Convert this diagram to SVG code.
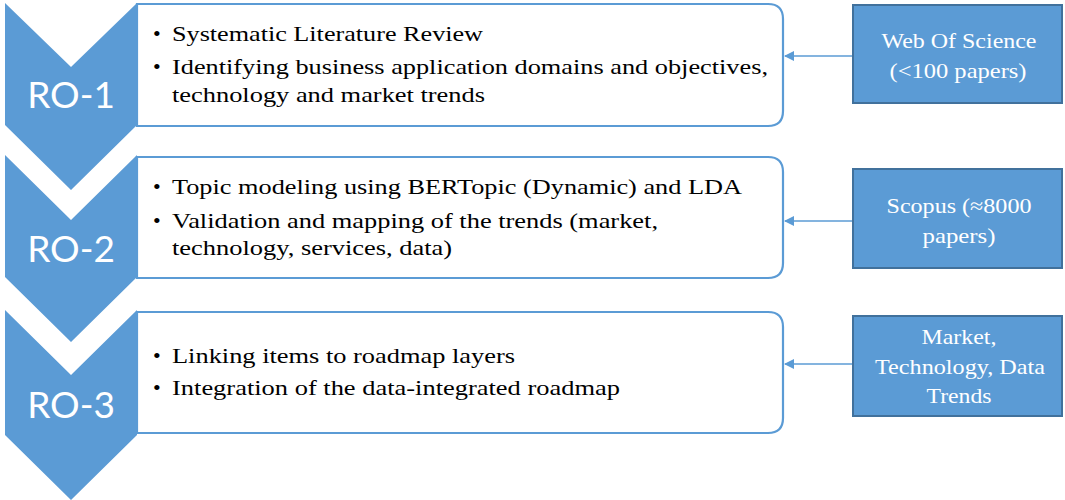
<svg xmlns="http://www.w3.org/2000/svg" width="1065" height="500" viewBox="0 0 1065 500">
  <defs>
    <style>
      .chev { fill: #5B9BD5; }
      .ro { font-family: Lato, "Open Sans", sans-serif; font-size: 37px; fill: #FFFFFF; text-anchor: middle; }
      .card { fill: #FFFFFF; stroke: #5B9BD5; stroke-width: 2.2; }
      .body { font-size: 22px; fill: #000000; }
      .src { fill: #5B9BD5; stroke: #41719C; stroke-width: 2; }
      .srctext { font-size: 21px; fill: #FFFFFF; text-anchor: middle; }
      .link { stroke: #5B9BD5; stroke-width: 1.5; fill: none; }
    </style>
    <marker id="arrow" viewBox="0 0 10 10" refX="9" refY="5" markerWidth="10" markerHeight="10" markerUnits="userSpaceOnUse" orient="auto">
      <path d="M0,0 L10,5 L0,10 Z" fill="#5B9BD5"/>
    </marker>
  </defs>

  <!-- serif text shares one font stack -->
  <g font-family="Liberation Serif, Times New Roman, Tinos, Nimbus Roman, Noto Serif, DejaVu Serif, FreeSerif, serif">

  <!-- RO-1: chevron + task card -->
  <g id="ro1">
    <path class="card" d="M137,4 H768 Q783,4 783,19 V111 Q783,126 768,126 H137 Z"/>
    <path class="chev" d="M5,3 L71,67 L137,3 V125 L71,190 L5,125 Z"/>
    <text class="ro" x="71" y="108">RO-1</text>
    <text class="body" x="153" y="41">•</text>
    <text class="body" x="172" y="41" textLength="311" lengthAdjust="spacingAndGlyphs">Systematic Literature Review</text>
    <text class="body" x="153" y="74">•</text>
    <text class="body" x="172" y="74" textLength="596" lengthAdjust="spacingAndGlyphs">Identifying business application domains and objectives,</text>
    <text class="body" x="172" y="102" textLength="313" lengthAdjust="spacingAndGlyphs">technology and market trends</text>
  </g>

  <!-- RO-2: chevron + task card -->
  <g id="ro2">
    <path class="card" d="M137,157 H768 Q783,157 783,172 V263 Q783,278 768,278 H137 Z"/>
    <path class="chev" d="M5,155 L71,220 L137,155 V277 L71,342 L5,277 Z"/>
    <text class="ro" x="71" y="262">RO-2</text>
    <text class="body" x="153" y="194">•</text>
    <text class="body" x="172" y="194" textLength="570" lengthAdjust="spacingAndGlyphs">Topic modeling using BERTopic (Dynamic) and LDA</text>
    <text class="body" x="153" y="228">•</text>
    <text class="body" x="172" y="228" textLength="486" lengthAdjust="spacingAndGlyphs">Validation and mapping of the trends (market,</text>
    <text class="body" x="172" y="255" textLength="280" lengthAdjust="spacingAndGlyphs">technology, services, data)</text>
  </g>

  <!-- RO-3: chevron + task card -->
  <g id="ro3">
    <path class="card" d="M137,312 H768 Q783,312 783,327 V418 Q783,433 768,433 H137 Z"/>
    <path class="chev" d="M5,310 L71,375 L137,310 V435 L71,500 L5,435 Z"/>
    <text class="ro" x="71" y="418">RO-3</text>
    <text class="body" x="153" y="363">•</text>
    <text class="body" x="172" y="363" textLength="343" lengthAdjust="spacingAndGlyphs">Linking items to roadmap layers</text>
    <text class="body" x="153" y="395">•</text>
    <text class="body" x="172" y="395" textLength="448" lengthAdjust="spacingAndGlyphs">Integration of the data-integrated roadmap</text>
  </g>

  <!-- Data sources -->
  <g id="src-wos">
    <rect class="src" x="853" y="5" width="209" height="98"/>
    <text class="srctext" x="959" y="48" textLength="155" lengthAdjust="spacingAndGlyphs">Web Of Science</text>
    <text class="srctext" x="958" y="78" textLength="137" lengthAdjust="spacingAndGlyphs">(&lt;100 papers)</text>
  </g>
  <g id="src-scopus">
    <rect class="src" x="853" y="169" width="209" height="99"/>
    <text class="srctext" x="959" y="213" textLength="145" lengthAdjust="spacingAndGlyphs">Scopus (≈8000</text>
    <text class="srctext" x="959" y="243" textLength="73" lengthAdjust="spacingAndGlyphs">papers)</text>
  </g>
  <g id="src-trends">
    <rect class="src" x="853" y="316" width="209" height="100"/>
    <text class="srctext" x="959" y="344" textLength="75" lengthAdjust="spacingAndGlyphs">Market,</text>
    <text class="srctext" x="960" y="374" textLength="170" lengthAdjust="spacingAndGlyphs">Technology, Data</text>
    <text class="srctext" x="959" y="403" textLength="65" lengthAdjust="spacingAndGlyphs">Trends</text>
  </g>

  </g>

  <!-- Connectors -->
  <g id="connectors">
    <line class="link" x1="852" y1="56" x2="785" y2="56" marker-end="url(#arrow)"/>
    <line class="link" x1="852" y1="221" x2="785" y2="221" marker-end="url(#arrow)"/>
    <line class="link" x1="852" y1="364" x2="785" y2="364" marker-end="url(#arrow)"/>
  </g>
</svg>
